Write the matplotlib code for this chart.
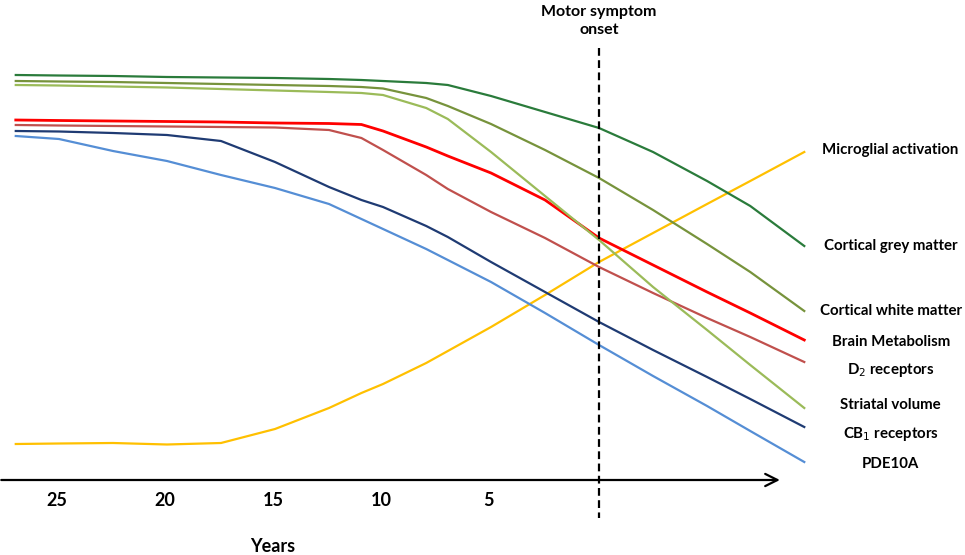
import matplotlib
matplotlib.use('Agg')
from matplotlib import pyplot as plt

plt.rcParams['font.family'] = ['Lato', 'DejaVu Sans']

# years before motor symptom onset (negative = after onset)
years = [27, 25, 22.5, 20, 17.5, 15, 12.5, 11, 10, 8, 7, 5, 2.5, 0, -2.5, -5, -7, -9.5]

# levels (arbitrary units, top of chart = 0)
grey_matter = [75, 75.5, 76, 77, 77.5, 78, 79, 80, 81, 83, 85, 96, 112, 128, 152, 181, 206, 246]
white_matter = [81, 81.5, 82, 83, 84, 85, 86, 87, 88.5, 98, 106, 124, 150, 178, 210, 244, 272, 311]
striatal = [85, 85.5, 86.5, 87.5, 89, 90.5, 92, 93, 95, 108, 119, 152, 196, 240, 287, 330, 365, 408]
metabolism = [120, 120.5, 121, 121.5, 122, 123, 123.5, 124.5, 131, 147, 156, 173, 200, 238, 265, 292, 313, 340]
d2 = [125, 125.5, 126, 126.5, 127, 127.5, 130, 138, 150, 175, 189, 212, 238, 267, 293, 318, 337, 362]
cb1 = [131, 131.5, 133, 135, 141, 162, 187, 200, 207, 226, 237, 262, 292, 322, 350, 377, 399, 427]
pde10a = [136, 139, 151, 161, 175, 188, 204, 219, 229, 249, 260, 282, 313, 345, 376, 406, 431, 462]
microglia = [444, 443.5, 443, 444.5, 443, 429, 408, 393, 384, 363, 351, 327, 295, 262, 233, 204, 181, 152]

tick_years = [25, 20, 15, 10, 5]

series = [
    ('Microglial activation', microglia, '#FFC000', 1.6, 150),
    ('Cortical grey matter', grey_matter, '#2A7B3B', 1.6, 246),
    ('Cortical white matter', white_matter, '#77933C', 1.6, 311),
    ('Brain Metabolism', metabolism, '#FF0000', 2.0, 342),
    ('D$_2$ receptors', d2, '#C0504D', 1.6, 370),
    ('Striatal volume', striatal, '#9BBB59', 1.6, 405),
    ('CB$_1$ receptors', cb1, '#1F3B73', 1.6, 434),
    ('PDE10A', pde10a, '#558ED5', 1.6, 464),
]

fig = plt.figure(figsize=(9.65, 5.55), dpi=100)
ax = fig.add_axes([0, 0, 1, 1])
ax.set_xlim(27.73, -16.94)
ax.set_ylim(555, 0)
ax.axis('off')

for label, vals, color, lw, ylab in series:
    ax.plot(years, vals, color=color, lw=lw, solid_joinstyle='round')
    ax.text(-13.5, ylab, label, ha='center', va='center', fontsize=10.8,
            fontweight='bold', color='black')

# time axis with arrow
ax.annotate('', xy=(-8.5, 480), xytext=(27.8, 480),
            arrowprops=dict(arrowstyle='->', color='black', lw=1.6,
                            mutation_scale=22))
for t in tick_years:
    ax.text(t + 0.1, 500, str(t), ha='center', va='center', fontsize=13,
            fontweight='bold')
ax.text(15.1, 546, 'Years', ha='center', va='center', fontsize=13,
        fontweight='bold')

# onset line
ax.plot([0, 0], [48, 518], color='black', lw=1.6, ls=(0, (3.5, 2)))
ax.text(0, 12, 'Motor symptom', ha='center', va='center', fontsize=11.5,
        fontweight='bold')
ax.text(0, 30, 'onset', ha='center', va='center', fontsize=11.5,
        fontweight='bold')

plt.savefig('out.png', dpi=100)
